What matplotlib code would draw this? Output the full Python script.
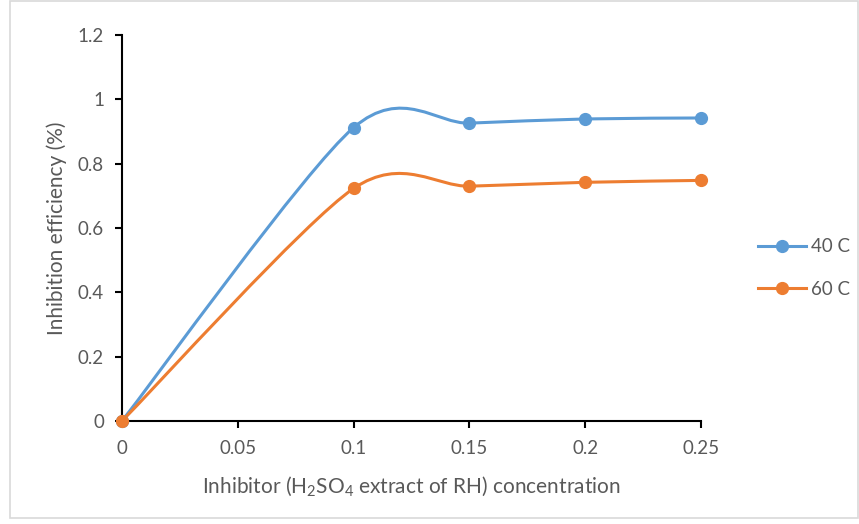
import numpy as np
import matplotlib
matplotlib.use("Agg")
import matplotlib.pyplot as plt
from matplotlib.path import Path
from matplotlib.patches import PathPatch, Rectangle
from matplotlib.lines import Line2D

#---------------- datos ----------------
conc = [0, 0.1, 0.15, 0.2, 0.25]
ie_40 = [0, 0.912, 0.926, 0.939, 0.942]
ie_60 = [0, 0.723, 0.730, 0.742, 0.748]
names = ['40 C', '60 C']
colors = ['#5B9BD5', '#ED7D31']

plt.rcParams['font.family'] = ['Lato', 'DejaVu Sans']
plt.rcParams['mathtext.fontset'] = 'custom'
plt.rcParams['mathtext.rm'] = 'Lato'
plt.rcParams['mathtext.default'] = 'regular'
gray = '#595959'

#------- curva suavizada tipo Excel (bezier) -------
def smooth_path(x, y, k=0.14):
    p = np.column_stack([x, y]).astype(float)
    n = len(p)
    verts = [p[0]]
    codes = [Path.MOVETO]
    for i in range(n - 1):
        pm = p[i - 1] if i > 0 else p[i]
        pp = p[i + 2] if i + 2 < n else p[i + 1]
        c1 = p[i] + (p[i + 1] - pm) * k
        c2 = p[i + 1] - (pp - p[i]) * k
        verts += [c1, c2, p[i + 1]]
        codes += [Path.CURVE4] * 3
    return Path(verts, codes)

fig = plt.figure(figsize=(8.59, 5.24), dpi=100)
fig.patches.append(Rectangle((10/859, 6/524), 848/859, 517/524, transform=fig.transFigure,
                             fill=False, edgecolor='#D9D9D9', lw=1.2))
ax = fig.add_axes([122/859, 103/524, 579/859, 386/524])

for ys, c, nm in zip([ie_40, ie_60], colors, names):
    ax.add_patch(PathPatch(smooth_path(conc, ys), fill=False, edgecolor=c, lw=2.2,
                           capstyle='round', zorder=2))
    ax.plot(conc, ys, 'o', color=c, ms=8.5, zorder=3, clip_on=False)

ax.set_xlim(0, 0.25)
ax.set_ylim(0, 1.2)
ax.set_xticks([0, 0.05, 0.1, 0.15, 0.2, 0.25])
ax.set_xticklabels(['0', '0.05', '0.1', '0.15', '0.2', '0.25'])
ax.set_yticks([0, 0.2, 0.4, 0.6, 0.8, 1, 1.2])
ax.set_yticklabels(['0', '0.2', '0.4', '0.6', '0.8', '1', '1.2'])
for s in ['top', 'right']:
    ax.spines[s].set_visible(False)
for s in ['left', 'bottom']:
    ax.spines[s].set_linewidth(1.5)
    ax.spines[s].set_color('black')
ax.tick_params(direction='out', length=5, width=1.5, colors='black',
               labelcolor=gray, labelsize=13.5)
ax.tick_params(axis='x', pad=9)
ax.tick_params(axis='y', pad=8)
ax.set_xlabel(r'Inhibitor (H$_2$SO$_4$ extract of RH) concentration', color=gray, fontsize=15, labelpad=12)
ax.set_ylabel('Inhibition efficiency (%)', color=gray, fontsize=15, labelpad=8)

handles = [Line2D([0], [0], color=c, lw=2.2, marker='o', ms=8.5) for c in colors]
leg = fig.legend(handles, names, loc='center left', bbox_to_anchor=(741/859, 256/524),
                 frameon=False, fontsize=13.5, labelcolor=gray, handlelength=2.56,
                 handletextpad=0.25, labelspacing=1.35)

fig.savefig('out.png', dpi=100)
